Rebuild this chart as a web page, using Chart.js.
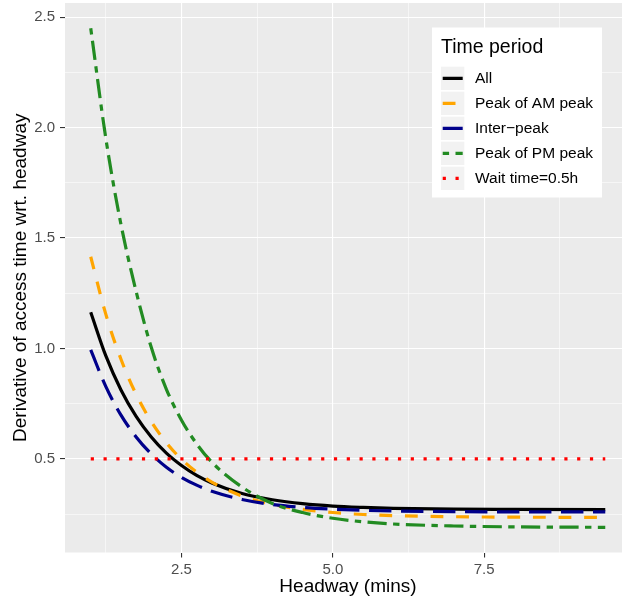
<!DOCTYPE html>
<html>
<head>
<meta charset="utf-8">
<script src="https://cdn.jsdelivr.net/npm/chart.js@4"></script>
<style>
  html, body { margin: 0; padding: 0; background: #ffffff; overflow: hidden; }
  #chart { display: block; }
</style>
</head>
<body>
<canvas id="chart" width="631" height="602"></canvas>
<script>
// Headway values (mins) where the curves were read
const headway = [1, 1.25, 1.5, 1.75, 2, 2.25, 2.5, 2.75, 3, 3.5, 4, 4.5, 5, 5.5, 6, 7, 8, 9.5];

// Derivative of access time wrt. headway, per time period
const allPeriods = [1.164, 0.966, 0.812, 0.692, 0.599, 0.526, 0.470, 0.425, 0.391, 0.343, 0.315, 0.297, 0.286, 0.280, 0.276, 0.272, 0.271, 0.270];
const amPeak = [1.415, 1.154, 0.951, 0.792, 0.669, 0.573, 0.498, 0.440, 0.395, 0.332, 0.294, 0.271, 0.257, 0.248, 0.243, 0.238, 0.236, 0.235];
const interPeak = [0.993, 0.827, 0.698, 0.599, 0.522, 0.462, 0.416, 0.381, 0.353, 0.316, 0.293, 0.280, 0.272, 0.267, 0.264, 0.261, 0.260, 0.260];
const pmPeak = [2.450, 1.950, 1.561, 1.258, 1.005, 0.815, 0.675, 0.568, 0.485, 0.372, 0.298, 0.257, 0.231, 0.215, 0.205, 0.196, 0.192, 0.190];
const waitTime = [0.5, 0.5, 0.5, 0.5, 0.5, 0.5, 0.5, 0.5, 0.5, 0.5, 0.5, 0.5, 0.5, 0.5, 0.5, 0.5, 0.5, 0.5];

const seriesLabels = ["All", "Peak of AM peak", "Inter\u2212peak", "Peak of PM peak", "Wait time=0.5h"];
const legendTitle = "Time period";

// ticks: majors get labels, minors only gridlines
const xTicks = [1.25, 2.5, 3.75, 5, 6.25, 7.5, 8.75];
const xMajor = [2.5, 5, 7.5];
const yTicks = [0.25, 0.5, 0.75, 1, 1.25, 1.5, 1.75, 2, 2.25, 2.5];
const yMajor = [0.5, 1, 1.5, 2, 2.5];

const FONT = "'Liberation Sans', Arial, Helvetica, sans-serif";
const LW = 3.2;

function toPoints(values) {
  return values.map((v, i) => ({ x: headway[i], y: v }));
}

function isMajor(list, v) {
  return list.some((m) => Math.abs(m - v) < 1e-9);
}

const styles = [
  { color: "#000000", dash: [] },
  { color: "#ffa500", dash: [4 * LW, 4 * LW] },
  { color: "#00008b", dash: [7 * LW, 3 * LW] },
  { color: "#228b22", dash: [2 * LW, 2 * LW, 6 * LW, 2 * LW] },
  { color: "#ff0000", dash: [1 * LW, 3 * LW] },
];
const seriesValues = [allPeriods, amPeak, interPeak, pmPeak, waitTime];

const datasets = seriesValues.map((vals, i) => ({
  label: seriesLabels[i],
  data: toPoints(vals),
  borderColor: styles[i].color,
  backgroundColor: styles[i].color,
  borderDash: styles[i].dash,
  borderWidth: LW,
  borderCapStyle: "butt",
  pointRadius: 0,
  cubicInterpolationMode: "monotone",
  fill: false,
  order: 5 - i,
}));

// grey panel behind the gridlines
const panelBg = {
  id: "panelBg",
  beforeDraw(chart) {
    const { ctx, chartArea: a } = chart;
    ctx.save();
    ctx.fillStyle = "#ebebeb";
    ctx.fillRect(a.left, a.top, a.right - a.left, a.bottom - a.top);
    ctx.restore();
  },
};

// ggplot style legend inside the panel
const ggLegend = {
  id: "ggLegend",
  afterDraw(chart) {
    const ctx = chart.ctx;
    const bx = 432, by = 27.5, bw = 170, bh = 170;
    ctx.save();
    ctx.fillStyle = "#ffffff";
    ctx.fillRect(bx, by, bw, bh);

    ctx.fillStyle = "#000000";
    ctx.font = "19.5px " + FONT;
    ctx.textBaseline = "alphabetic";
    ctx.textAlign = "left";
    ctx.fillText(legendTitle, 441, 53);

    chart.data.datasets.forEach((ds, i) => {
      const top = 66.7 + i * 25;
      const cy = top + 11.65;
      ctx.fillStyle = "#f2f2f2";
      ctx.fillRect(441, top, 23.3, 23.3);

      ctx.save();
      ctx.beginPath();
      ctx.rect(441, top, 23.3, 23.3);
      ctx.clip();
      ctx.strokeStyle = ds.borderColor;
      ctx.lineWidth = ds.borderWidth;
      ctx.lineCap = "butt";
      ctx.setLineDash(ds.borderDash);
      ctx.lineDashOffset = 0;
      ctx.beginPath();
      ctx.moveTo(442.7, cy);
      ctx.lineTo(462.7, cy);
      ctx.stroke();
      ctx.restore();

      ctx.fillStyle = "#000000";
      ctx.font = "15.5px " + FONT;
      ctx.textBaseline = "middle";
      ctx.fillText(ds.label, 475, cy);
    });
    ctx.restore();
  },
};

new Chart(document.getElementById("chart"), {
  type: "line",
  data: { datasets: datasets },
  options: {
    responsive: false,
    animation: false,
    events: [],
    layout: { padding: { top: 3, right: 0, bottom: 0, left: 0 } },
    plugins: {
      legend: { display: false },
      tooltip: { enabled: false },
    },
    scales: {
      x: {
        type: "linear",
        min: 0.575,
        max: 9.925,
        afterFit: (scale) => {
          scale.height = 49.5;
          scale.paddingLeft = 0;
          scale.paddingRight = 0;
        },
        afterBuildTicks: (scale) => { scale.ticks = xTicks.map((v) => ({ value: v })); },
        border: { display: false },
        grid: {
          color: "#ffffff",
          lineWidth: (c) => (isMajor(xMajor, c.tick.value) ? 1.1 : 0.55),
          tickColor: (c) => (isMajor(xMajor, c.tick.value) ? "#333333" : "rgba(0,0,0,0)"),
          tickWidth: 1.1,
          tickLength: 5,
          drawTicks: true,
        },
        ticks: {
          autoSkip: false,
          maxRotation: 0,
          padding: 3,
          color: "#4d4d4d",
          font: { family: FONT, size: 15 },
          callback: (v) => (isMajor(xMajor, v) ? Number(v).toFixed(1) : ""),
        },
        title: {
          display: true,
          text: "Headway (mins)",
          color: "#000000",
          font: { family: FONT, size: 19 },
          padding: { top: 0, bottom: 4 },
        },
      },
      y: {
        type: "linear",
        min: 0.076,
        max: 2.564,
        afterFit: (scale) => {
          scale.width = 65;
          scale.paddingTop = 0;
          scale.paddingBottom = 0;
        },
        afterBuildTicks: (scale) => { scale.ticks = yTicks.map((v) => ({ value: v })); },
        border: { display: false },
        grid: {
          color: "#ffffff",
          lineWidth: (c) => (isMajor(yMajor, c.tick.value) ? 1.1 : 0.55),
          tickColor: (c) => (isMajor(yMajor, c.tick.value) ? "#333333" : "rgba(0,0,0,0)"),
          tickWidth: 1.1,
          tickLength: 5,
          drawTicks: true,
        },
        ticks: {
          autoSkip: false,
          padding: 5,
          color: "#4d4d4d",
          font: { family: FONT, size: 15 },
          callback: (v) => (isMajor(yMajor, v) ? Number(v).toFixed(1) : ""),
        },
        title: {
          display: true,
          text: "Derivative of access time wrt. headway",
          color: "#000000",
          font: { family: FONT, size: 19 },
          padding: { top: 9, bottom: 0 },
        },
      },
    },
  },
  plugins: [panelBg, ggLegend],
});
</script>
</body>
</html>
